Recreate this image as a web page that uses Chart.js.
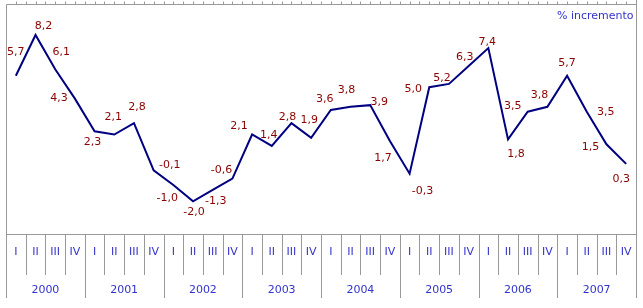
<!DOCTYPE html>
<html>
<head>
<meta charset="utf-8">
<script src="https://cdn.jsdelivr.net/npm/chart.js@4"></script>
<style>
  html, body { margin: 0; padding: 0; background: #fff; }
  #wrap { width: 643px; height: 308px; }
</style>
</head>
<body>
<div id="wrap"><canvas id="incrementoChart" width="643" height="308"></canvas></div>
<script>
const years = ['2000', '2001', '2002', '2003', '2004', '2005', '2006', '2007'];
const quarters = ['I', 'II', 'III', 'IV'];
const values = [
  5.7, 8.2, 6.1, 4.3,
  2.3, 2.1, 2.8, -0.1,
  -1.0, -2.0, -1.3, -0.6,
  2.1, 1.4, 2.8, 1.9,
  3.6, 3.8, 3.9, 1.7,
  -0.3, 5.0, 5.2, 6.3,
  7.4, 1.8, 3.5, 3.8,
  5.7, 3.5, 1.5, 0.3
];

// where each value label sits relative to its point (px)
const labelOffsets = [
  [0, -24], [8, -9], [6, -17], [-16, 0],
  [-2, 11], [-1, -17], [3, -16], [16, -5],
  [-6, 13], [1, 11], [3, 11], [-11, -8],
  [-13, -8], [-3, -11], [-4, -6], [-2, -18],
  [-6, -11], [-4, -17], [9, -3], [-7, 17],
  [13, 17], [-16, 2], [-7, -6], [-4, -9],
  [-1, -6], [8, 15], [-15, -6], [-8, -12],
  [0, -13], [19, 0], [-16, 3], [-5, 15]
];

const labels = [];
years.forEach(y => quarters.forEach(q => labels.push(y + ' ' + q)));

const gridColor = '#999999';
const textBlue = '#3333cc';
const valueRed = '#8b0000';
const font = '11px "DejaVu Sans", Verdana, sans-serif';

const framePlugin = {
  id: 'frame',
  afterDraw(chart) {
    const ctx = chart.ctx;
    const area = chart.chartArea;
    const x = chart.scales.x;
    const n = labels.length;
    const step = (area.right - area.left) / n;
    const left = Math.round(area.left) + 0.5;
    const right = Math.round(area.right) + 0.5;
    const top = Math.round(area.top) + 0.5;
    const bottom = Math.round(area.bottom) + 0.5;

    ctx.save();
    ctx.strokeStyle = gridColor;
    ctx.lineWidth = 1;
    ctx.beginPath();
    // frame
    ctx.moveTo(left, top); ctx.lineTo(right, top);
    ctx.moveTo(left, top); ctx.lineTo(left, 298);
    ctx.moveTo(right, 0); ctx.lineTo(right, 298);
    ctx.moveTo(left, bottom); ctx.lineTo(right, bottom);
    // small ticks along the top, every half quarter
    for (let k = 1; k < n * 2; k++) {
      const tx = Math.round(area.left + k * step / 2) + 0.5;
      ctx.moveTo(tx, top); ctx.lineTo(tx, top - 3);
    }
    // quarter / year separators
    for (let k = 1; k < n; k++) {
      const sx = Math.round(area.left + k * step) + 0.5;
      ctx.moveTo(sx, bottom);
      ctx.lineTo(sx, k % 4 === 0 ? 298 : 275);
    }
    ctx.stroke();

    ctx.font = font;
    ctx.textAlign = 'center';
    ctx.textBaseline = 'middle';
    ctx.fillStyle = textBlue;
    labels.forEach((l, i) => {
      ctx.fillText(quarters[i % 4], x.getPixelForValue(i), 252);
    });
    years.forEach((y, j) => {
      const cx = (x.getPixelForValue(j * 4) + x.getPixelForValue(j * 4 + 3)) / 2;
      ctx.fillText(y, cx, 290);
    });

    ctx.textAlign = 'right';
    ctx.fillText('% incremento', right - 3, 16);

    // value labels
    const meta = chart.getDatasetMeta(0);
    ctx.textAlign = 'center';
    ctx.fillStyle = valueRed;
    meta.data.forEach((pt, i) => {
      const [dx, dy] = labelOffsets[i];
      ctx.fillText(values[i].toFixed(1).replace('.', ','), pt.x + dx, pt.y + dy);
    });
    ctx.restore();
  }
};

new Chart(document.getElementById('incrementoChart').getContext('2d'), {
  type: 'line',
  data: {
    labels: labels,
    datasets: [{
      data: values,
      borderColor: '#000080',
      borderWidth: 2,
      pointRadius: 0,
      tension: 0,
      fill: false
    }]
  },
  options: {
    responsive: false,
    animation: false,
    layout: { padding: { left: 6, right: 7, top: 4, bottom: 74 } },
    plugins: {
      legend: { display: false },
      tooltip: { enabled: false }
    },
    scales: {
      x: { display: false, offset: true },
      y: { display: false, min: -4, max: 10.1 }
    }
  },
  plugins: [framePlugin]
});
</script>
</body>
</html>
